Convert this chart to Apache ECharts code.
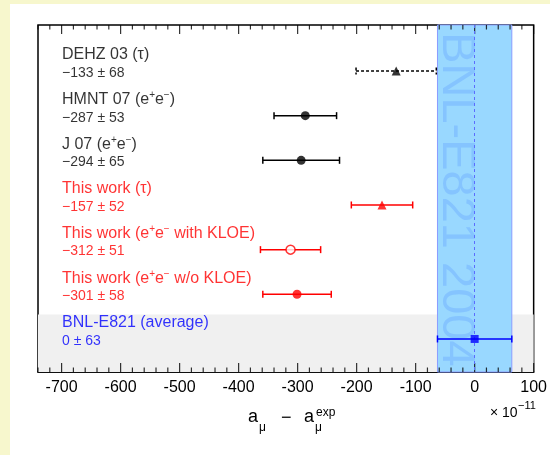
<!DOCTYPE html>
<html><head><meta charset="utf-8">
<script src="https://cdn.jsdelivr.net/npm/echarts@6/dist/echarts.min.js"></script>
<style>
html,body{margin:0;padding:0;background:#f7f7cd;width:550px;height:455px;overflow:hidden;}
#panel{position:absolute;left:10px;top:4px;right:0;bottom:0;background:#fff;}
#chart{position:absolute;left:0;top:0;width:550px;height:455px;}
</style></head><body>
<div id="panel"></div><div id="chart"></div>
<script>
// ---- data ----
const names = ['DEHZ 03 (τ)', 'HMNT 07 (e^+e^−)', 'J 07 (e^+e^−)', 'This work (τ)',
  'This work (e^+e^− with KLOE)', 'This work (e^+e^− w/o KLOE)', 'BNL-E821 (average)'];
const values = [-133, -287, -294, -157, -312, -301, 0];
const errors = [68, 53, 65, 52, 51, 58, 63];
const groups = ['prev', 'prev', 'prev', 'this', 'this', 'this', 'exp'];
const markers = ['triangle', 'circle', 'circle', 'triangle', 'openCircle', 'circle', 'square'];
const dashedRows = ['DEHZ 03 (τ)'];
const tickLabels = ['-700', '-600', '-500', '-400', '-300', '-200', '-100', '0', '100'];
const bandLabel = 'BNL-E821 2004';
const expIndex = 6;

// ---- styling ----
const FONT = 'Liberation Sans, Arial, Helvetica, sans-serif';
const groupColor = {prev: '#000000', this: '#ff0000', exp: '#0000ff'};
const xMin = -740, xMax = 100, minorStep = 20;
const yMin = -0.03, yMax = 7.74;
const tickPos = [];
for (let v = xMin; v <= xMax; v += minorStep) tickPos.push(v);
const isMajorVal = v => tickLabels.indexOf(String(v)) >= 0;
const MAJOR_LEN = 9, MINOR_LEN = 4.5;

function fmtVal(v, e) {
  return (v < 0 ? '−' + Math.abs(v) : String(v)) + ' ± ' + e;
}
function richName(s) {
  return s.split(/(\^.)/).filter(t => t.length).map(t =>
    t[0] === '^' ? '{s|' + t.slice(1) + '}' : '{n|' + t + '}').join('');
}
// inward tick marks on the top / bottom frame edges, placed through the x scale
function tickSeries(yVal, dir) {
  return {
    type: 'scatter', clip: false, symbol: 'rect', silent: true,
    itemStyle: {color: '#000'},
    data: tickPos.map(v => {
      const len = isMajorVal(v) ? MAJOR_LEN : MINOR_LEN;
      return {value: [v, yVal], symbolSize: [1.2, len], symbolOffset: [0, dir * len / 2]};
    })
  };
}

const markerData = values.map((v, i) => {
  const c = groupColor[groups[i]];
  const m = markers[i];
  const item = {value: [v, i + 1]};
  if (m === 'triangle') { item.symbol = 'triangle'; item.symbolSize = 9; item.itemStyle = {color: c}; }
  else if (m === 'circle') { item.symbol = 'circle'; item.symbolSize = 9; item.itemStyle = {color: c}; }
  else if (m === 'openCircle') { item.symbol = 'circle'; item.symbolSize = 9; item.itemStyle = {color: '#fff', borderColor: c, borderWidth: 1.5}; }
  else { item.symbol = 'rect'; item.symbolSize = 8; item.itemStyle = {color: c}; }
  return item;
});

const chart = echarts.init(document.getElementById('chart'));
chart.setOption({
  animation: false,
  grid: {left: 38, right: 14, top: 25, bottom: 83, show: true,
    borderColor: '#000', borderWidth: 1.5, backgroundColor: 'transparent'},
  xAxis: {
    type: 'value', min: xMin, max: xMax, interval: minorStep,
    axisLine: {show: true, onZero: false, lineStyle: {color: '#000', width: 1.5}},
    axisTick: {show: false},
    splitLine: {show: false},
    axisLabel: {margin: 8, fontSize: 16, color: '#000', fontFamily: FONT,
      formatter: v => isMajorVal(v) ? String(v) : ''}
  },
  yAxis: {
    type: 'value', inverse: true, min: yMin, max: yMax,
    axisLine: {show: false}, axisTick: {show: false}, axisLabel: {show: false}, splitLine: {show: false}
  },
  series: [
    { // grey band behind experimental row
      type: 'scatter', data: [], silent: true, z: 1,
      markArea: {silent: true, itemStyle: {color: '#f0f0f0'},
        data: [[{yAxis: expIndex + 0.45}, {yAxis: yMax}]]}
    },
    { // experimental band
      type: 'scatter', data: [], silent: true, z: 2,
      markArea: {silent: true, itemStyle: {color: '#99d8ff', borderColor: '#8a9cff', borderWidth: 1},
        data: [[{xAxis: values[expIndex] - errors[expIndex]}, {xAxis: values[expIndex] + errors[expIndex]}]]},
      markLine: {silent: true, symbol: 'none', label: {show: false},
        lineStyle: {color: '#5b6cff', type: [3, 3], width: 1},
        data: [{xAxis: values[expIndex]}]}
    },
    { // band text
      type: 'scatter', silent: true, symbolSize: 0, z: 3,
      data: [[values[expIndex] - errors[expIndex] * 0.49, 0.13]],
      label: {show: true, position: 'inside', formatter: bandLabel, rotate: -90,
        align: 'left', verticalAlign: 'middle', fontSize: 47, fontFamily: FONT, color: '#80bfff'}
    },
    tickSeries(yMax, -1),
    tickSeries(yMin, 1),
    { // error bars
      type: 'custom', silent: true, z: 6,
      data: values.map((v, i) => [v, i + 1, errors[i]]),
      renderItem: (params, api) => {
        const i = params.dataIndex;
        const x = api.value(0), y = api.value(1), e = api.value(2);
        const p1 = api.coord([x - e, y]), p2 = api.coord([x + e, y]);
        const dashed = dashedRows.indexOf(names[i]) >= 0;
        const style = {stroke: groupColor[groups[i]], lineWidth: 1.5, lineDash: dashed ? [3, 2] : null, fill: null};
        return {type: 'group', children: [
          {type: 'line', shape: {x1: p1[0], y1: p1[1], x2: p2[0], y2: p2[1]}, style},
          {type: 'line', shape: {x1: p1[0], y1: p1[1] - 3.5, x2: p1[0], y2: p1[1] + 3.5}, style},
          {type: 'line', shape: {x1: p2[0], y1: p2[1] - 3.5, x2: p2[0], y2: p2[1] + 3.5}, style}
        ]};
      }
    },
    { // markers
      type: 'scatter', silent: true, z: 7,
      data: markerData
    },
    { // row labels
      type: 'scatter', silent: true, symbolSize: 0, z: 8,
      data: names.map((n, i) => ({value: [xMin, i + 1], label: {color: groupColor[groups[i]]}})),
      label: {show: true, position: 'right', distance: 24, offset: [0, -7], fontFamily: FONT,
        formatter: p => richName(names[p.dataIndex]) + '\n{v|' + fmtVal(values[p.dataIndex], errors[p.dataIndex]) + '}',
        rich: {
          n: {fontSize: 16, lineHeight: 18, fontFamily: FONT},
          s: {fontSize: 10, lineHeight: 10, verticalAlign: 'top', fontFamily: FONT},
          v: {fontSize: 14, lineHeight: 18, fontFamily: FONT}
        }}
    }
  ],
  graphic: [
    {type: 'text', x: 248, y: 417, style: {text: 'a', font: '18px ' + FONT, fill: '#000', align: 'left', verticalAlign: 'middle'}},
    {type: 'text', x: 259, y: 428, style: {text: 'μ', font: '12px ' + FONT, fill: '#000', align: 'left', verticalAlign: 'middle'}},
    {type: 'text', x: 281, y: 418, style: {text: '−', font: '18px ' + FONT, fill: '#000', align: 'left', verticalAlign: 'middle'}},
    {type: 'text', x: 304, y: 417, style: {text: 'a', font: '18px ' + FONT, fill: '#000', align: 'left', verticalAlign: 'middle'}},
    {type: 'text', x: 316, y: 413, style: {text: 'exp', font: '12px ' + FONT, fill: '#000', align: 'left', verticalAlign: 'middle'}},
    {type: 'text', x: 315, y: 428, style: {text: 'μ', font: '12px ' + FONT, fill: '#000', align: 'left', verticalAlign: 'middle'}},
    {type: 'text', x: 490, y: 413, style: {text: '× 10', font: '14px ' + FONT, fill: '#000', align: 'left', verticalAlign: 'middle'}},
    {type: 'text', x: 518, y: 406, style: {text: '−11', font: '11px ' + FONT, fill: '#000', align: 'left', verticalAlign: 'middle'}}
  ]
});
</script>
</body></html>
